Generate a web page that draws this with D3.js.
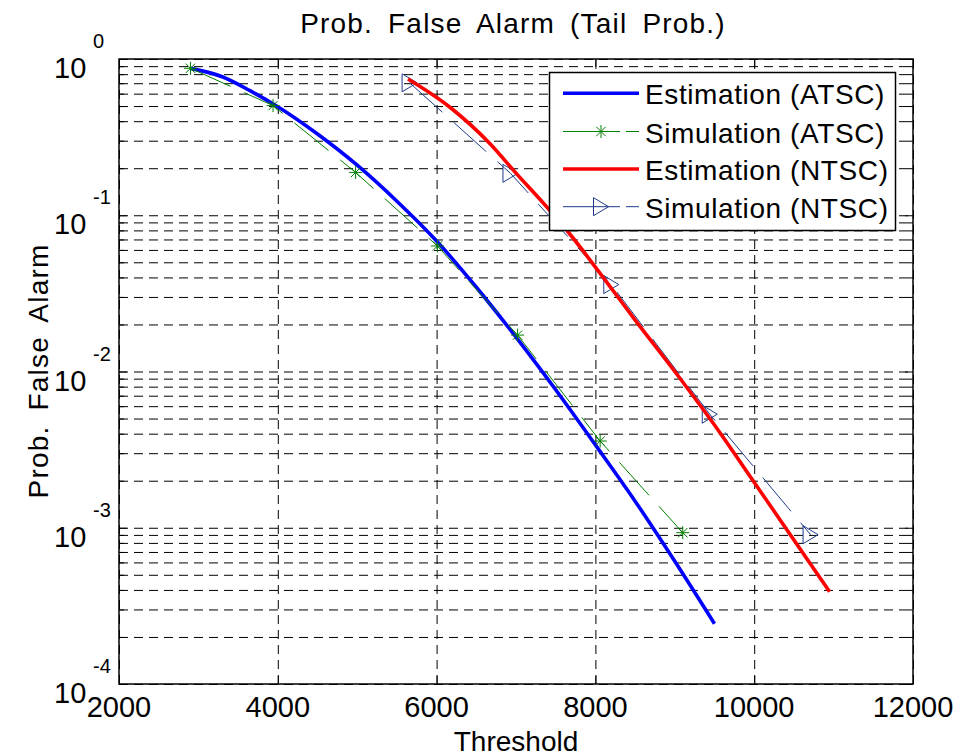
<!DOCTYPE html>
<html>
<head>
<meta charset="utf-8">
<script src="https://cdn.jsdelivr.net/npm/d3@7"></script>
<style>
  body { margin: 0; background: #fff; }
  text { font-family: "Liberation Sans", Arial, Helvetica, sans-serif; fill: #000; }
</style>
</head>
<body>
<svg id="chart" width="958" height="756"></svg>
<script>
// Estimated false-alarm probability vs. detection threshold (ATSC)
const thrEstATSC = [2900, 3300, 3650, 4000, 4500, 5000, 5500, 6000, 6500, 7000, 7500, 8000, 8500, 9000, 9500];
const pfaEstATSC = [0.871, 0.77, 0.627, 0.495, 0.331, 0.209, 0.123, 0.0684, 0.0346, 0.0166, 0.00764, 0.00339, 0.00148, 0.00061, 0.000243];

// Simulated false-alarm probability (ATSC)
const thrSimATSC = [2900, 3940, 4980, 6010, 7020, 8060, 9100];
const pfaSimATSC = [0.872, 0.503, 0.188, 0.0636, 0.0171, 0.00359, 0.00093];

// Estimated false-alarm probability (NTSC)
const thrEstNTSC = [5640, 6160, 6670, 7000, 7400, 7670, 8090, 8530, 9000, 9560, 9980, 10950];
const pfaEstNTSC = [0.745, 0.495, 0.288, 0.186, 0.111, 0.0767, 0.0405, 0.0204, 0.0100, 0.00412, 0.00202, 0.000389];

// Simulated false-alarm probability (NTSC)
const thrSimNTSC = [5660, 6930, 8200, 9440, 10710];
const pfaSimNTSC = [0.704, 0.1855, 0.0360, 0.00533, 0.000903];

const xTickValues = [2000, 4000, 6000, 8000, 10000, 12000];
const xTickLabels = ["2000", "4000", "6000", "8000", "10000", "12000"];
const yTickValues = [1e-4, 1e-3, 1e-2, 1e-1, 1];
const yTickExponents = ["-4", "-3", "-2", "-1", "0"];
const legendLabels = ["Estimation (ATSC)", "Simulation (ATSC)", "Estimation (NTSC)", "Simulation (NTSC)"];

const titleText = "Prob. False Alarm (Tail Prob.)";
const xLabelText = "Threshold";
const yLabelText = "Prob. False Alarm";

// minor decade ticks 2..9 x 10^k
const yMinorValues = [];
for (let k = -4; k <= -1; k++) for (let m = 2; m <= 9; m++) yMinorValues.push(m * Math.pow(10, k));

const svg = d3.select("#chart");
svg.append("rect").attr("width", 958).attr("height", 756).attr("fill", "#fff");

const L = 119, R = 913, T = 59, B = 684;
const x = d3.scaleLinear().domain([2000, 12000]).range([L, R]);
const y = d3.scaleLog().domain([1e-4, 1]).range([B, T]);

const W = R - L, H = B - T;

// ---- grid (dashed) ----
const gridDash = "9,6";
const gx = svg.append("g").attr("transform", `translate(0,${B})`)
  .call(d3.axisBottom(x).tickValues(xTickValues).tickSize(-H).tickFormat(""));
gx.select(".domain").remove();
gx.selectAll("line").attr("stroke", "#000").attr("stroke-dasharray", gridDash);

const gy = svg.append("g").attr("transform", `translate(${L},0)`)
  .call(d3.axisLeft(y).tickValues(yTickValues.concat(yMinorValues)).tickSize(-W).tickFormat(""));
gy.select(".domain").remove();
gy.selectAll("line").attr("stroke", "#000").attr("stroke-dasharray", gridDash);

// ---- inward ticks on all four sides ----
function tickAxis(axis, tx, ty) {
  const g = svg.append("g").attr("transform", `translate(${tx},${ty})`).call(axis);
  g.select(".domain").remove();
  g.selectAll("line").attr("stroke", "#000").attr("stroke-width", 1);
  g.selectAll("text").remove();
  return g;
}
tickAxis(d3.axisBottom(x).tickValues(xTickValues).tickSize(-8), 0, B);
tickAxis(d3.axisTop(x).tickValues(xTickValues).tickSize(-8), 0, T);
tickAxis(d3.axisLeft(y).tickValues(yTickValues).tickSize(-8), L, 0);
tickAxis(d3.axisRight(y).tickValues(yTickValues).tickSize(-8), R, 0);
tickAxis(d3.axisLeft(y).tickValues(yMinorValues).tickSize(-5), L, 0);
tickAxis(d3.axisRight(y).tickValues(yMinorValues).tickSize(-5), R, 0);

// box
svg.append("rect").attr("x", L).attr("y", T).attr("width", W).attr("height", H)
  .attr("fill", "none").attr("stroke", "#000").attr("stroke-width", 1.5);

// ---- tick labels ----
svg.append("g").selectAll("text").data(xTickValues).join("text")
  .attr("x", d => x(d)).attr("y", B + 33)
  .attr("text-anchor", "middle").attr("font-size", 29)
  .text((d, i) => xTickLabels[i]);

const yl = svg.append("g").selectAll("g").data(yTickValues).join("g");
yl.append("text").attr("x", 54).attr("y", d => y(d) + 19)
  .attr("font-size", 29).text("10");
yl.append("text").attr("x", 93).attr("y", d => y(d) - 11)
  .attr("font-size", 20)
  .text((d, i) => yTickExponents[i]);

// ---- axis titles ----
svg.append("text").attr("x", 513).attr("y", 33).attr("text-anchor", "middle")
  .attr("font-size", 28).attr("letter-spacing", 1.2).attr("word-spacing", 6).text(titleText);
svg.append("text").attr("x", 516).attr("y", 751).attr("text-anchor", "middle")
  .attr("font-size", 28).text(xLabelText);
svg.append("text").attr("transform", `translate(48,371) rotate(-90)`)
  .attr("text-anchor", "middle").attr("font-size", 28)
  .attr("letter-spacing", 1.2).attr("word-spacing", 6).text(yLabelText);

// ---- series ----
const line = d3.line().x(d => x(d[0])).y(d => y(d[1]));
const smooth = d3.line().x(d => x(d[0])).y(d => y(d[1])).curve(d3.curveMonotoneX);
const zip = (a, b) => a.map((v, i) => [v, b[i]]);

const estA = zip(thrEstATSC, pfaEstATSC);
const simA = zip(thrSimATSC, pfaSimATSC);
const estN = zip(thrEstNTSC, pfaEstNTSC);
const simN = zip(thrSimNTSC, pfaSimNTSC);

const navy = "#1f3a8a", green = "#008000";
const starPath = (s) => {
  const c = s * 0.72;
  return `M${-s},0H${s}M0,${-s}V${s}M${-c},${-c}L${c},${c}M${-c},${c}L${c},${-c}`;
};
const triPath = "M-7.5,-9L7.5,0L-7.5,9Z";

const plot = svg.append("g");
plot.append("path").datum(estA).attr("d", smooth).attr("fill", "none")
  .attr("stroke", "#0000ff").attr("stroke-width", 3.6).attr("stroke-linejoin", "round");

plot.append("path").datum(simA).attr("d", line).attr("fill", "none")
  .attr("stroke", green).attr("stroke-width", 1).attr("stroke-dasharray", "44,15");
plot.append("g").selectAll("path").data(simA).join("path")
  .attr("transform", d => `translate(${x(d[0])},${y(d[1])})`)
  .attr("d", starPath(6.5)).attr("fill", "none").attr("stroke", green).attr("stroke-width", 1);

plot.append("path").datum(simN).attr("d", line).attr("fill", "none")
  .attr("stroke", navy).attr("stroke-width", 1).attr("stroke-dasharray", "44,15");
plot.append("g").selectAll("path").data(simN).join("path")
  .attr("transform", d => `translate(${x(d[0])},${y(d[1])})`)
  .attr("d", triPath).attr("fill", "none").attr("stroke", navy).attr("stroke-width", 1);

plot.append("path").datum(estN).attr("d", smooth).attr("fill", "none")
  .attr("stroke", "#ff0000").attr("stroke-width", 3.6).attr("stroke-linejoin", "round");

// ---- legend ----
const lg = svg.append("g");
lg.append("rect").attr("x", 549.5).attr("y", 72.5).attr("width", 346).attr("height", 158)
  .attr("fill", "#fff").attr("stroke", "#000").attr("stroke-width", 1.5);
const legendRows = [93.3, 131.5, 169, 206.7];
const legendStyle = [
  { color: "#0000ff", width: 3.6, dash: null, marker: null },
  { color: green, width: 1, dash: "57,6", marker: "star" },
  { color: "#ff0000", width: 3.6, dash: null, marker: null },
  { color: navy, width: 1, dash: "57,6", marker: "tri" }
];
legendLabels.forEach((lab, i) => {
  const st = legendStyle[i], yy = legendRows[i];
  const seg = lg.append("line").attr("x1", 563).attr("x2", 639).attr("y1", yy).attr("y2", yy)
    .attr("stroke", st.color).attr("stroke-width", st.width);
  if (st.dash) seg.attr("stroke-dasharray", st.dash);
  if (st.marker === "star") lg.append("path").attr("transform", `translate(601,${yy})`)
    .attr("d", starPath(6.5)).attr("fill", "none").attr("stroke", st.color);
  if (st.marker === "tri") lg.append("path").attr("transform", `translate(601,${yy})`)
    .attr("d", triPath).attr("fill", "none").attr("stroke", st.color);
  lg.append("text").attr("x", 645).attr("y", yy + 11).attr("font-size", 28)
    .attr("letter-spacing", 0.6).text(lab);
});
</script>
</body>
</html>
